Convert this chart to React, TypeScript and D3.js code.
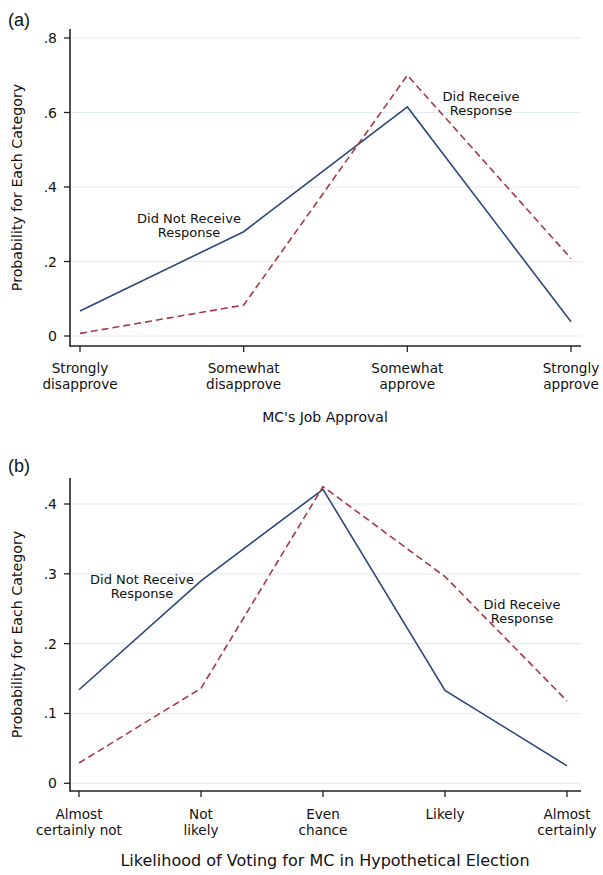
import React from "react";
import * as d3 from "d3";

const catsA = [["Strongly", "disapprove"], ["Somewhat", "disapprove"], ["Somewhat", "approve"], ["Strongly", "approve"]];
const notRecvA = [0.067, 0.28, 0.615, 0.038];
const recvA = [0.007, 0.083, 0.70, 0.208];
const ticksA = [0, 0.2, 0.4, 0.6, 0.8];
const tickLabelsA = ["0", ".2", ".4", ".6", ".8"];

const catsB = [["Almost", "certainly not"], ["Not", "likely"], ["Even", "chance"], ["Likely"], ["Almost", "certainly"]];
const notRecvB = [0.134, 0.29, 0.421, 0.133, 0.025];
const recvB = [0.029, 0.136, 0.425, 0.296, 0.118];
const ticksB = [0, 0.1, 0.2, 0.3, 0.4];
const tickLabelsB = ["0", ".1", ".2", ".3", ".4"];

const FONT = "'DejaVu Sans', sans-serif";
const BLUE = "#2b4878";
const RED = "#a73846";
const GRID = "#e3ecf5";

type PanelProps = {
  tag: string; tagY: number;
  cats: string[][]; notRecv: number[]; recv: number[];
  ticks: number[]; tickLabels: string[]; yMax: number;
  xRange: [number, number]; yRange: [number, number];
  axisTop: number; axisY: number; gridRight: number;
  tickLine1: number; xTitle: string; xTitleY: number; xTitleSize: number;
  notLbl: [number, number]; recvLbl: [number, number];
};

function Panel(p: PanelProps) {
  const keys = p.cats.map((c, i) => String(i));
  const x = d3.scalePoint<string>().domain(keys).range(p.xRange);
  const y = d3.scaleLinear().domain([0, p.yMax]).range(p.yRange);
  const line = d3.line<number>().x((_, i) => x(String(i)) as number).y((v) => y(v));
  const axisX = 70;
  const yMid = (p.axisTop + p.axisY) / 2;
  return (
    <g>
      <text x={8} y={p.tagY} fontFamily="'Liberation Sans', Arial, sans-serif" fontSize={18} fill="#111">{p.tag}</text>
      {p.ticks.map((t, i) => (
        <g key={"g" + i}>
          <line x1={axisX + 1} x2={p.gridRight} y1={y(t)} y2={y(t)} stroke={GRID} strokeWidth={1.2} />
          <line x1={axisX - 6} x2={axisX} y1={y(t)} y2={y(t)} stroke="#222" strokeWidth={1.3} />
          <text x={57} y={y(t) + 5} textAnchor="end" fontFamily={FONT} fontSize={14} fill="#111">{p.tickLabels[i]}</text>
        </g>
      ))}
      <line x1={axisX} x2={axisX} y1={p.axisTop} y2={p.axisY + 0.8} stroke="#222" strokeWidth={1.6} />
      <line x1={axisX} x2={p.gridRight} y1={p.axisY} y2={p.axisY} stroke="#222" strokeWidth={1.6} />
      {keys.map((k, i) => (
        <g key={"x" + k}>
          <line x1={x(k)} x2={x(k)} y1={p.axisY} y2={p.axisY + 6} stroke="#222" strokeWidth={1.3} />
          {p.cats[i].map((s, j) => (
            <text key={j} x={x(k)} y={p.tickLine1 + j * 15.5} textAnchor="middle" fontFamily={FONT} fontSize={13.6} fill="#111">{s}</text>
          ))}
        </g>
      ))}
      <path d={line(p.notRecv) || ""} fill="none" stroke={BLUE} strokeWidth={1.6} />
      <path d={line(p.recv) || ""} fill="none" stroke={RED} strokeWidth={1.6} strokeDasharray="7,4" />
      <text transform={`translate(22,${yMid}) rotate(-90)`} textAnchor="middle" fontFamily={FONT} fontSize={14.2} fill="#111">Probability for Each Category</text>
      <text x={325} y={p.xTitleY} textAnchor="middle" fontFamily={FONT} fontSize={p.xTitleSize} fill="#111">{p.xTitle}</text>
      <text x={p.notLbl[0]} y={p.notLbl[1]} textAnchor="middle" fontFamily={FONT} fontSize={13} fill="#111">
        <tspan x={p.notLbl[0]}>Did Not Receive</tspan>
        <tspan x={p.notLbl[0]} dy={14}>Response</tspan>
      </text>
      <text x={p.recvLbl[0]} y={p.recvLbl[1]} textAnchor="middle" fontFamily={FONT} fontSize={13} fill="#111">
        <tspan x={p.recvLbl[0]}>Did Receive</tspan>
        <tspan x={p.recvLbl[0]} dy={14}>Response</tspan>
      </text>
    </g>
  );
}

export default function App() {
  return (
    <svg width={603} height={875} style={{ position: "absolute", left: 0, top: 0, background: "#fff" }}>
      <rect width={603} height={875} fill="#fff" />
      <Panel tag="(a)" tagY={26} cats={catsA} notRecv={notRecvA} recv={recvA}
        ticks={ticksA} tickLabels={tickLabelsA} yMax={0.8}
        xRange={[80, 571]} yRange={[336, 38]} axisTop={29} axisY={346} gridRight={581}
        tickLine1={373} xTitle="MC's Job Approval" xTitleY={422} xTitleSize={14}
        notLbl={[189, 223]} recvLbl={[481, 101]} />
      <Panel tag="(b)" tagY={472} cats={catsB} notRecv={notRecvB} recv={recvB}
        ticks={ticksB} tickLabels={tickLabelsB} yMax={0.4}
        xRange={[79, 567]} yRange={[783.3, 504]} axisTop={478} axisY={791} gridRight={581}
        tickLine1={819} xTitle="Likelihood of Voting for MC in Hypothetical Election" xTitleY={866} xTitleSize={16}
        notLbl={[142, 584]} recvLbl={[522, 609]} />
    </svg>
  );
}
